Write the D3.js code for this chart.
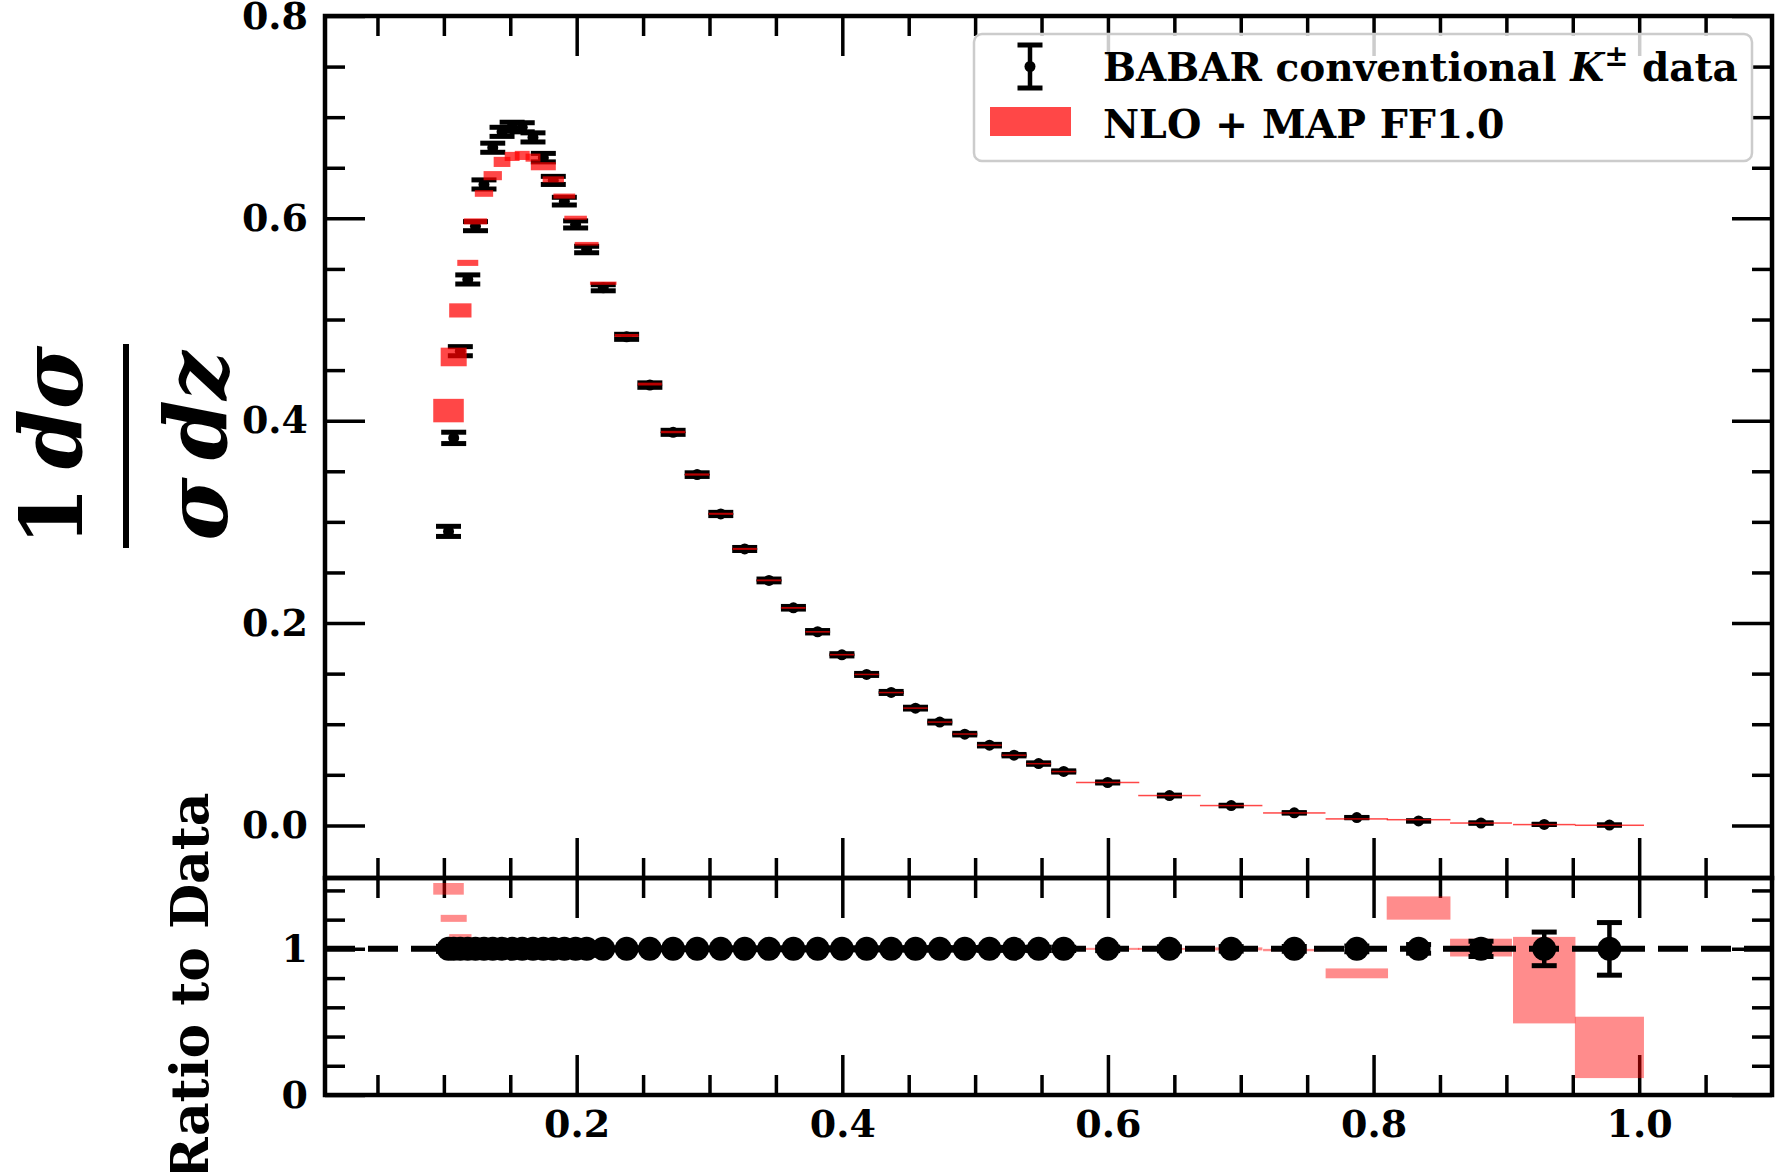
<!DOCTYPE html>
<html>
<head>
<meta charset="utf-8">
<script src="https://cdn.jsdelivr.net/npm/d3@7"></script>
<style>
  body { margin: 0; background: #fff; }
</style>
</head>
<body>
<div id="chart"></div>
<script>
// z bin centres of the BABAR K+- points
const zVals = [0.1035, 0.1074, 0.1124, 0.1180, 0.1238, 0.1302, 0.1368, 0.1438, 0.1514, 0.1590,
  0.1671, 0.1749, 0.1824, 0.1907, 0.1992, 0.2075, 0.2200, 0.2376, 0.2551, 0.2726,
  0.2907, 0.3085, 0.3265, 0.3448, 0.3632, 0.3814, 0.3997, 0.4183, 0.4368, 0.4551,
  0.4734, 0.4922, 0.5108, 0.5293, 0.5478, 0.5667, 0.5998, 0.6463, 0.6928, 0.7403,
  0.7874, 0.8339, 0.8809, 0.9285, 0.9776];
// half width of each bin (z units)
const binHalfWidths = [0.0115, 0.0098, 0.0084, 0.0079, 0.0088, 0.0069, 0.0069, 0.0063, 0.0056, 0.0056,
  0.0056, 0.0094, 0.0080, 0.0082, 0.0085, 0.0090, 0.0100, 0.0090, 0.0090, 0.0092,
  0.0092, 0.0092, 0.0092, 0.0092, 0.0092, 0.0092, 0.0092, 0.0092, 0.0092, 0.0092,
  0.0092, 0.0092, 0.0092, 0.0092, 0.0092, 0.0092, 0.0238, 0.0235, 0.0235, 0.0235,
  0.0235, 0.0240, 0.0233, 0.0235, 0.0260];
// measured 1/sigma dsigma/dz
const dataVals = [0.2906, 0.3830, 0.4687, 0.5396, 0.5923, 0.6335, 0.6698, 0.6855, 0.6905, 0.6900,
  0.6800, 0.6600, 0.6375, 0.6170, 0.5940, 0.5692, 0.5314, 0.4829, 0.4352, 0.3885,
  0.3467, 0.3078, 0.2732, 0.2421, 0.2151, 0.1914, 0.1686, 0.1492, 0.1314, 0.1159,
  0.1021, 0.0902, 0.0793, 0.0694, 0.0611, 0.0533, 0.0424, 0.0295, 0.0196, 0.0124,
  0.0077, 0.0044, 0.0023, 0.0010, 0.00035];
const dataErrs = [0.0050, 0.0056, 0.0045, 0.0045, 0.0045, 0.0045, 0.0045, 0.0045, 0.0045, 0.0045,
  0.0045, 0.0042, 0.0040, 0.0038, 0.0035, 0.0032, 0.0030, 0.0025, 0.0022, 0.0020,
  0.0018, 0.0016, 0.0015, 0.0014, 0.0013, 0.0012, 0.0011, 0.0010, 0.0010, 0.0009,
  0.0009, 0.0008, 0.0008, 0.0007, 0.0007, 0.0006, 0.0005, 0.0004, 0.0003, 0.0002,
  0.00015, 0.00013, 0.00012, 0.000115, 0.000063];
// NLO + MAP FF1.0 prediction and its band half height
const theoryVals = [0.4100, 0.4630, 0.5090, 0.5560, 0.5970, 0.6246, 0.6422, 0.6558, 0.6612, 0.6622,
  0.6600, 0.6515, 0.6385, 0.6220, 0.6006, 0.5749, 0.5359, 0.4842, 0.4362, 0.3888,
  0.3468, 0.3080, 0.2733, 0.2422, 0.2150, 0.1913, 0.1687, 0.1492, 0.1313, 0.1159,
  0.1021, 0.0903, 0.0793, 0.0694, 0.0610, 0.0532, 0.0424, 0.0295, 0.0196, 0.0123,
  0.00641, 0.00563, 0.00232, 0.000786, 0.000114];
const theoryErrs = [0.0116, 0.0092, 0.0070, 0.0030, 0.0030, 0.0033, 0.0045, 0.0050, 0.0045, 0.0045,
  0.0040, 0.0040, 0.0030, 0.0025, 0.0020, 0.0018, 0.0016, 0.0015, 0.0014, 0.0012,
  0.0011, 0.0010, 0.0010, 0.0009, 0.0009, 0.0008, 0.0008, 0.0007, 0.0007, 0.0006,
  0.0006, 0.0005, 0.0005, 0.0005, 0.0004, 0.0004, 0.0003, 0.0002, 0.0002, 0.0001,
  0.00026, 0.00035, 0.00014, 0.000296, 0.0000735];

const xMajorTicks = [0.2, 0.4, 0.6, 0.8, 1.0];
const mainYMajorTicks = [0.0, 0.2, 0.4, 0.6, 0.8];
const ratioYMajorTicks = [0, 1];
const legendLabels = ["BABAR conventional ", "NLO + MAP FF1.0"];

const width = 1778, height = 1172;
const plotLeft = 325, plotRight = 1772, plotTop = 16, split = 878, plotBottom = 1095;
const font = "'DejaVu Serif', serif";
const red = "#ff0000";

const x = d3.scaleLinear().domain([0.0105, 1.1]).range([plotLeft, plotRight]);
const yMain = d3.scaleLinear().domain([-0.052, 0.8]).range([split, plotTop]);
const yRatio = d3.scaleLinear().domain([0, 1.485]).range([plotBottom, split]);

const svg = d3.select("#chart").append("svg")
  .attr("width", width)
  .attr("height", height)
  .style("background", "#fff");

const points = zVals.map((z, i) => ({
  z: z,
  hw: binHalfWidths[i],
  v: dataVals[i],
  e: dataErrs[i],
  th: theoryVals[i],
  te: theoryErrs[i]
}));

// minor ticks: every 0.05 in z, every 0.05 in main y, every 0.2 in ratio
const isMajor = (v, step) => Math.abs(v / step - Math.round(v / step)) < 1e-6;
const xMinorTicks = d3.range(1, 22).map(i => +(i * 0.05).toFixed(2)).filter(v => !isMajor(v, 0.2));
const mainYMinorTicks = d3.range(1, 16).map(i => +(i * 0.05).toFixed(2)).filter(v => !isMajor(v, 0.2));
const ratioYMinorTicks = [0.2, 0.4, 0.6, 0.8, 1.2, 1.4];

function drawAxis(gen, pos, values, size, fmt, pad) {
  const g = svg.append("g")
    .attr("transform", pos)
    .call(gen.tickValues(values).tickSize(size).tickPadding(pad || 0).tickFormat(fmt || (() => "")));
  g.select(".domain").remove();
  g.selectAll(".tick line").attr("stroke", "#000").attr("stroke-width", 3.5);
  g.selectAll(".tick text")
    .attr("fill", "#000")
    .style("font-family", font)
    .style("font-weight", "bold")
    .style("font-size", "38px");
  return g;
}

const f1 = d3.format(".1f");

// main panel ticks (all pointing inwards)
drawAxis(d3.axisTop(x), `translate(0,${plotTop})`, xMajorTicks, -40);
drawAxis(d3.axisTop(x), `translate(0,${plotTop})`, xMinorTicks, -20);
drawAxis(d3.axisBottom(x), `translate(0,${split})`, xMajorTicks, -40);
drawAxis(d3.axisBottom(x), `translate(0,${split})`, xMinorTicks, -20);
drawAxis(d3.axisLeft(yMain), `translate(${plotLeft},0)`, mainYMajorTicks, -40, f1, 17);
drawAxis(d3.axisLeft(yMain), `translate(${plotLeft},0)`, mainYMinorTicks, -20);
drawAxis(d3.axisRight(yMain), `translate(${plotRight},0)`, mainYMajorTicks, -40);
drawAxis(d3.axisRight(yMain), `translate(${plotRight},0)`, mainYMinorTicks, -20);

// ratio panel ticks
drawAxis(d3.axisTop(x), `translate(0,${split})`, xMajorTicks, -40);
drawAxis(d3.axisTop(x), `translate(0,${split})`, xMinorTicks, -20);
drawAxis(d3.axisBottom(x), `translate(0,${plotBottom})`, xMajorTicks, -40, f1, 15);
drawAxis(d3.axisBottom(x), `translate(0,${plotBottom})`, xMinorTicks, -20);
drawAxis(d3.axisLeft(yRatio), `translate(${plotLeft},0)`, ratioYMajorTicks, -40, d3.format("d"), 17);
drawAxis(d3.axisLeft(yRatio), `translate(${plotLeft},0)`, ratioYMinorTicks, -20);
drawAxis(d3.axisRight(yRatio), `translate(${plotRight},0)`, ratioYMajorTicks, -40);
drawAxis(d3.axisRight(yRatio), `translate(${plotRight},0)`, ratioYMinorTicks, -20);

// error bars with caps and a marker
function errorBars(g, yScale, getV, getE, r) {
  const sel = g.selectAll("g.pt").data(points).join("g").attr("class", "pt");
  sel.append("line")
    .attr("x1", d => x(d.z)).attr("x2", d => x(d.z))
    .attr("y1", d => yScale(getV(d) - getE(d))).attr("y2", d => yScale(getV(d) + getE(d)))
    .attr("stroke", "#000").attr("stroke-width", 4.5);
  [-1, 1].forEach(s => {
    sel.append("line")
      .attr("x1", d => x(d.z) - 12.5).attr("x2", d => x(d.z) + 12.5)
      .attr("y1", d => yScale(getV(d) + s * getE(d))).attr("y2", d => yScale(getV(d) + s * getE(d)))
      .attr("stroke", "#000").attr("stroke-width", 5);
  });
  sel.append("circle")
    .attr("cx", d => x(d.z)).attr("cy", d => yScale(getV(d)))
    .attr("r", r).attr("fill", "#000");
}

// ---- main panel: data then theory band on top
errorBars(svg.append("g"), yMain, d => d.v, d => d.e, 5.5);

svg.append("g").selectAll("rect").data(points).join("rect")
  .attr("x", d => x(d.z - d.hw))
  .attr("width", d => x(d.z + d.hw) - x(d.z - d.hw))
  .attr("y", d => Math.min(yMain(d.th + d.te), yMain(d.th) - 0.75))
  .attr("height", d => Math.max(yMain(d.th - d.te) - yMain(d.th + d.te), 1.5))
  .attr("fill", red)
  .attr("fill-opacity", 0.72);

// ---- ratio panel
svg.append("g").selectAll("rect").data(points).join("rect")
  .attr("x", d => x(d.z - d.hw))
  .attr("width", d => x(d.z + d.hw) - x(d.z - d.hw))
  .attr("y", d => Math.min(yRatio((d.th + d.te) / d.v), yRatio(d.th / d.v) - 0.75))
  .attr("height", d => Math.max(yRatio((d.th - d.te) / d.v) - yRatio((d.th + d.te) / d.v), 1.5))
  .attr("fill", red)
  .attr("fill-opacity", 0.45);

svg.append("line")
  .attr("x1", plotLeft).attr("x2", plotRight)
  .attr("y1", yRatio(1)).attr("y2", yRatio(1))
  .attr("stroke", "#000").attr("stroke-width", 6)
  .attr("stroke-dasharray", "30,13");

errorBars(svg.append("g"), yRatio, d => 1, d => d.e / d.v, 12);

// frames
svg.append("rect").attr("x", plotLeft).attr("y", plotTop)
  .attr("width", plotRight - plotLeft).attr("height", split - plotTop)
  .attr("fill", "none").attr("stroke", "#000").attr("stroke-width", 4.5);
svg.append("rect").attr("x", plotLeft).attr("y", split)
  .attr("width", plotRight - plotLeft).attr("height", plotBottom - split)
  .attr("fill", "none").attr("stroke", "#000").attr("stroke-width", 4.5);

// ---- legend
const legend = svg.append("g");
legend.append("rect")
  .attr("x", 974).attr("y", 34).attr("width", 778).attr("height", 127)
  .attr("rx", 8)
  .attr("fill", "#fff").attr("fill-opacity", 0.8)
  .attr("stroke", "#cccccc").attr("stroke-width", 2.5);
legend.append("line").attr("x1", 1030).attr("x2", 1030).attr("y1", 45).attr("y2", 88)
  .attr("stroke", "#000").attr("stroke-width", 4.5);
[45, 88].forEach(yy => legend.append("line")
  .attr("x1", 1017.5).attr("x2", 1042.5).attr("y1", yy).attr("y2", yy)
  .attr("stroke", "#000").attr("stroke-width", 5));
legend.append("circle").attr("cx", 1030).attr("cy", 66.5).attr("r", 5.5).attr("fill", "#000");
legend.append("rect").attr("x", 990).attr("y", 107).attr("width", 81).attr("height", 29)
  .attr("fill", red).attr("fill-opacity", 0.72);

const t1 = legend.append("text")
  .attr("x", 1103).attr("y", 81)
  .style("font-family", font).style("font-weight", "bold").style("font-size", "39px");
t1.append("tspan").text(legendLabels[0]);
t1.append("tspan").style("font-style", "italic").text("K");
t1.append("tspan").attr("dy", -15).style("font-size", "29px").text("\u00b1");
t1.append("tspan").attr("dy", 15).text(" data");

legend.append("text")
  .attr("x", 1103).attr("y", 138)
  .style("font-family", font).style("font-weight", "bold").style("font-size", "39.5px")
  .text(legendLabels[1]);

// ---- y labels
const frac = svg.append("g").attr("transform", "translate(126,446) rotate(-90)");
const num = frac.append("text").attr("x", 0).attr("y", -44).attr("text-anchor", "middle")
  .style("font-family", font).style("font-weight", "bold").style("font-size", "86px");
num.append("tspan").text("1\u2009");
num.append("tspan").style("font-style", "italic").text("d\u03c3");
frac.append("line").attr("x1", -102).attr("x2", 102).attr("y1", 0).attr("y2", 0)
  .attr("stroke", "#000").attr("stroke-width", 6);
frac.append("text").attr("x", 0).attr("y", 101).attr("text-anchor", "middle")
  .style("font-family", font).style("font-weight", "bold").style("font-style", "italic").style("font-size", "86px")
  .text("\u03c3\u2009dz");

svg.append("text")
  .attr("transform", `translate(208,${(split + plotBottom) / 2}) rotate(-90)`)
  .attr("text-anchor", "middle")
  .style("font-family", font).style("font-weight", "bold").style("font-size", "52px")
  .text("Ratio to Data");
</script>
</body>
</html>
